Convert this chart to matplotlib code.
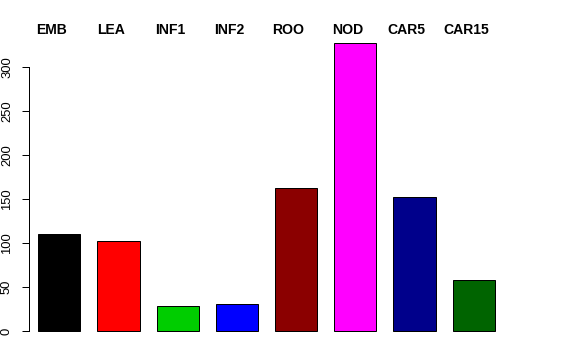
import matplotlib
matplotlib.use("Agg")
import matplotlib.pyplot as plt
import matplotlib.transforms as mtransforms

categories = ["EMB", "LEA", "INF1", "INF2", "ROO", "NOD", "CAR5", "CAR15"]
values = [110, 102, 29, 31, 163, 328, 152, 58]
colors = ["#000000", "#FF0000", "#00CD00", "#0000FF", "#8B0000", "#FF00FF", "#00008B", "#006400"]
yticks = [0, 50, 100, 150, 200, 250, 300]

plt.rcParams['font.family'] = ['Liberation Sans', 'DejaVu Sans']

fig = plt.figure(figsize=(8, 5), dpi=72)
ax = fig.add_axes([29/576, 18/360, 518/576, 310/360])

x = list(range(len(categories)))
ax.bar(x, values, width=0.715, color=colors, edgecolor="black", linewidth=1)

ax.set_xlim(-0.512, 8.238)
ax.set_ylim(-12.5, 340.4)

for s in ["top", "right", "bottom"]:
    ax.spines[s].set_visible(False)
ax.spines["left"].set_bounds(0, 300)
ax.spines["left"].set_linewidth(1)
ax.set_xticks([])
ax.set_yticks(yticks)
ax.set_yticklabels([str(t) for t in yticks], rotation=90, va="center", fontsize=13)
ax.tick_params(axis="y", length=7, width=1, pad=9)

trans = mtransforms.blended_transform_factory(ax.transData, fig.transFigure)
for xi, lab in zip(x, categories):
    ax.text(xi - 0.13, (360 - 33.7) / 360, lab, transform=trans, ha="center",
            va="baseline", fontsize=14, fontweight="bold", clip_on=False)

fig.savefig("out.png", dpi=72)
